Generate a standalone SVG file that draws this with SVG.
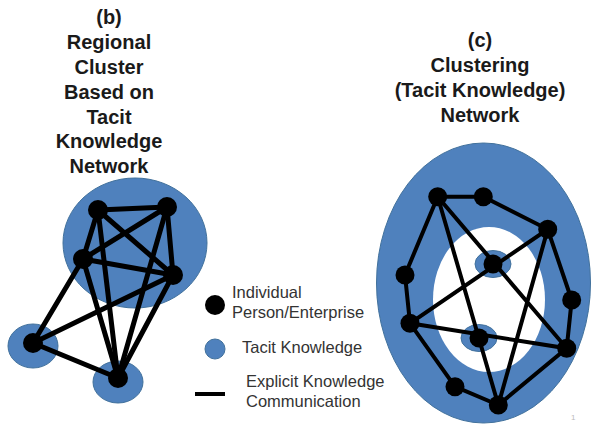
<svg xmlns="http://www.w3.org/2000/svg" width="593" height="426" viewBox="0 0 593 426">
<style>
.title{font-family:"Liberation Sans",Arial,sans-serif;font-weight:bold;font-size:20px;fill:#1a1a1a;text-anchor:middle}
.leg{font-family:"Liberation Sans",Arial,sans-serif;font-size:16.5px;fill:#333}
.tacit{fill:#4f81bd;stroke:#41719c;stroke-width:1}
.node{fill:#000}
.eb{stroke:#000;stroke-width:5;stroke-linecap:round;fill:none}
.ec{stroke:#000;stroke-width:4;stroke-linecap:round;fill:none}
</style>
<rect width="593" height="426" fill="#fff"/>
<g id="title-b">
<text class="title" x="109" y="24">(b)</text>
<text class="title" x="109" y="49">Regional</text>
<text class="title" x="109" y="74">Cluster</text>
<text class="title" x="109" y="99">Based on</text>
<text class="title" x="109" y="124">Tacit</text>
<text class="title" x="109" y="148">Knowledge</text>
<text class="title" x="109" y="173">Network</text>
</g>
<g id="title-c">
<text class="title" x="480" y="47">(c)</text>
<text class="title" x="480" y="72">Clustering</text>
<text class="title" x="480" y="97">(Tacit Knowledge)</text>
<text class="title" x="480" y="122">Network</text>
</g>
<g id="tacit-b">
<ellipse class="tacit" cx="135" cy="243" rx="72" ry="65"/>
<ellipse class="tacit" cx="33" cy="346" rx="25" ry="22"/>
<ellipse class="tacit" cx="118" cy="382" rx="25" ry="21"/>
</g>
<g id="tacit-c">
<ellipse class="tacit" cx="483.5" cy="283" rx="107" ry="140"/>
<ellipse cx="489" cy="299.5" rx="56" ry="72.5" fill="#fff"/>
<ellipse class="tacit" cx="493" cy="264" rx="18" ry="13.5"/>
<ellipse class="tacit" cx="479" cy="338" rx="18" ry="13.5"/>
</g>
<g id="connectors">
<g class="eb">
<line x1="98" y1="210" x2="167" y2="207"/>
<line x1="98" y1="210" x2="83" y2="259"/>
<line x1="98" y1="210" x2="173" y2="275"/>
<line x1="98" y1="210" x2="118" y2="378"/>
<line x1="167" y1="207" x2="83" y2="259"/>
<line x1="167" y1="207" x2="173" y2="275"/>
<line x1="167" y1="207" x2="118" y2="378"/>
<line x1="83" y1="259" x2="173" y2="275"/>
<line x1="83" y1="259" x2="33" y2="343"/>
<line x1="83" y1="259" x2="118" y2="378"/>
<line x1="173" y1="275" x2="33" y2="343"/>
<line x1="173" y1="275" x2="118" y2="378"/>
<line x1="33" y1="343" x2="118" y2="378"/>
</g>
<g class="ec">
<polygon points="437.7,196.7 483.3,196.7 547.7,229.3 571.7,300 566.7,348.3 498.3,405 455,386.7 410,323.3 405,275"/>
<polygon points="437.7,196.7 566.7,348.3 410,323.3 547.7,229.3 498.3,405"/>
</g>
</g>
<g id="nodes-b">
<circle class="node" cx="98" cy="210" r="10"/>
<circle class="node" cx="167" cy="207" r="10"/>
<circle class="node" cx="83" cy="259" r="10"/>
<circle class="node" cx="173" cy="275" r="10"/>
<circle class="node" cx="33" cy="343" r="10"/>
<circle class="node" cx="118" cy="378" r="10"/>
</g>
<g id="nodes-c">
<circle class="node" cx="437.7" cy="196.7" r="9.5"/>
<circle class="node" cx="483.3" cy="196.7" r="9.5"/>
<circle class="node" cx="547.7" cy="229.3" r="9.5"/>
<circle class="node" cx="405" cy="275" r="9.5"/>
<circle class="node" cx="571.7" cy="300" r="9.5"/>
<circle class="node" cx="410" cy="323.3" r="9.5"/>
<circle class="node" cx="566.7" cy="348.3" r="9.5"/>
<circle class="node" cx="455" cy="386.7" r="9.5"/>
<circle class="node" cx="498.3" cy="405" r="9.5"/>
<circle class="node" cx="493" cy="264" r="9.5"/>
<circle class="node" cx="479" cy="338" r="9.5"/>
</g>
<g id="legend">
<circle class="node" cx="215" cy="305" r="10"/>
<circle class="tacit" cx="215" cy="349" r="10"/>
<line x1="195" y1="394" x2="225" y2="394" stroke="#000" stroke-width="4"/>
<text class="leg" x="232" y="298">Individual</text>
<text class="leg" x="232" y="318">Person/Enterprise</text>
<text class="leg" x="242" y="353">Tacit Knowledge</text>
<text class="leg" x="246" y="387">Explicit Knowledge</text>
<text class="leg" x="246" y="407">Communication</text>
</g>
<text x="571" y="420" font-family="Liberation Sans,Arial,sans-serif" font-size="8" fill="#bbb">1</text>
</svg>
